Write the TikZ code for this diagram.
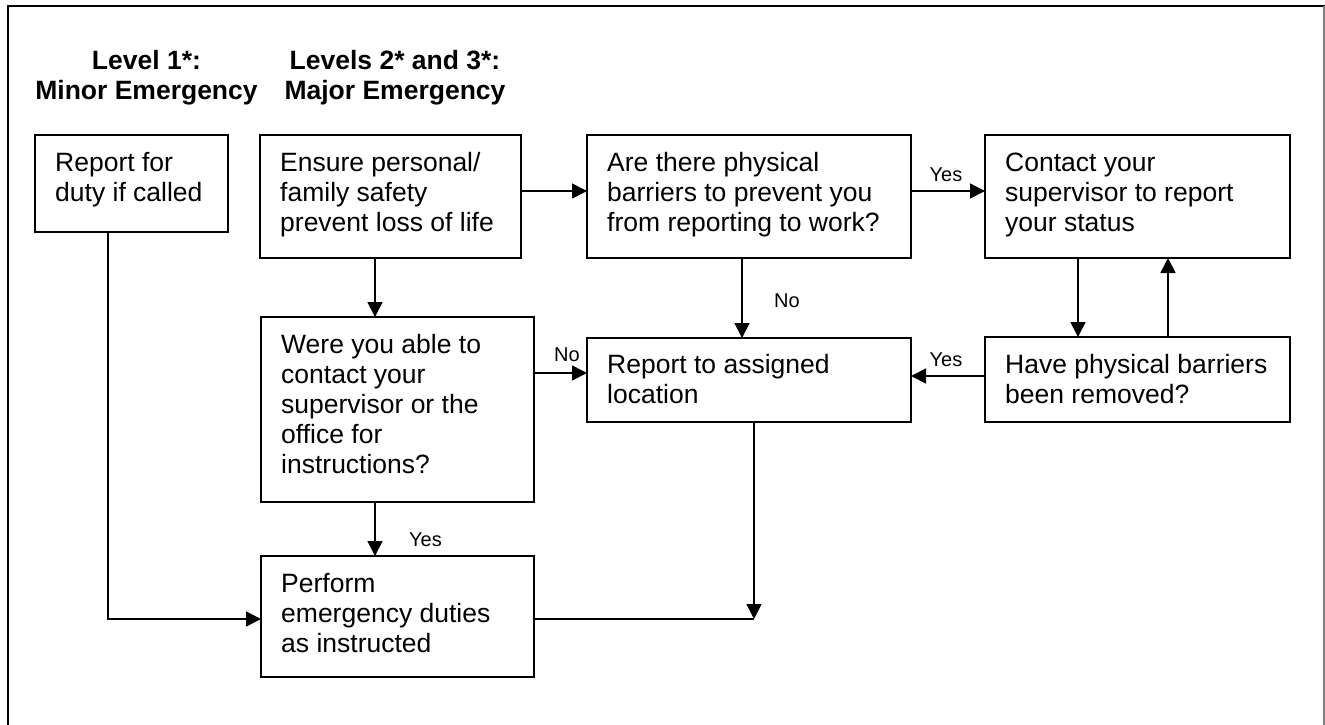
\documentclass[tikz,border=0pt]{standalone}
\usepackage{fontspec}
\setmainfont{Liberation Sans}
\usetikzlibrary{arrows.meta,calc}
\begin{document}
\begin{tikzpicture}[x=1pt,y=-1pt,
  box/.style={draw,line width=2pt,rectangle,anchor=north west,inner sep=0pt,outer sep=0pt},
  txt/.style={anchor=north west,inner sep=0pt,align=left,font=\fontsize{26.5}{30}\selectfont},
  head/.style={anchor=north,inner sep=0pt,align=center,font=\bfseries\fontsize{26.5}{30}\selectfont},
  lbl/.style={inner sep=0pt,font=\fontsize{20}{24}\selectfont},
  conn/.style={line width=1.7pt},
  arr/.style={conn,-{Triangle[length=15pt,width=15pt]}}]

\useasboundingbox (0,0) rectangle (1325,725);

% page frame (open at the bottom)
\draw[line width=2pt] (7.5,725) -- (7.5,6) -- (1325,6);
\draw[gray,line width=1.2pt] (1324,6) -- (1324,725);

% column headings
\node[head] (h1) at (146.5,48) {\strut Level 1*:\\Minor Emergency};
\node[head] (h2) at (395,48) {\strut Levels 2* and 3*:\\Major Emergency};

% boxes
\node[box,minimum width=193pt,minimum height=97pt]  (b1) at (35,135)  {};
\node[box,minimum width=261pt,minimum height=123pt] (b2) at (260,135) {};
\node[box,minimum width=324pt,minimum height=123pt] (b3) at (587,135) {};
\node[box,minimum width=305pt,minimum height=123pt] (b4) at (985,135) {};
\node[box,minimum width=324pt,minimum height=84pt]  (b5) at (587,338) {};
\node[box,minimum width=305pt,minimum height=85pt]  (b6) at (985,337) {};
\node[box,minimum width=273pt,minimum height=185pt] (b7) at (261,317) {};
\node[box,minimum width=273pt,minimum height=121pt] (b8) at (261,556) {};

% box texts
\node[txt] (t1) at ($(b1.north west)+(20,15)$) {\strut Report for\\duty if called};
\node[txt] (t2) at ($(b2.north west)+(20,15)$) {\strut Ensure personal/\\family safety\\prevent loss of life};
\node[txt] (t3) at ($(b3.north west)+(20,15)$) {\strut Are there physical\\barriers to prevent you\\from reporting to work?};
\node[txt] (t4) at ($(b4.north west)+(20,15)$) {\strut Contact your\\supervisor to report\\your status};
\node[txt] (t5) at ($(b5.north west)+(20,14)$) {\strut Report to assigned\\location};
\node[txt] (t6) at ($(b6.north west)+(20,15)$) {\strut Have physical barriers\\been removed?};
\node[txt] (t7) at ($(b7.north west)+(20,15)$) {\strut Were you able to\\contact your\\supervisor or the\\office for\\instructions?};
\node[txt] (t8) at ($(b8.north west)+(20,15)$) {\strut Perform\\emergency duties\\as instructed};

% connectors
\draw[arr] ([yshift=-56pt]b2.north east) -- ([yshift=-56pt]b3.north west);
\draw[arr] ([yshift=-56pt]b3.north east) -- ([yshift=-56pt]b4.north west);
\draw[arr] ([xshift=155pt]b3.south west) -- ([xshift=155pt]b5.north west);
\draw[arr] ([xshift=93pt]b4.south west) -- ([xshift=93pt]b6.north west);
\draw[arr] ([xshift=183pt]b6.north west) -- ([xshift=183pt]b4.south west);
\draw[arr] ([yshift=-39pt]b6.north west) -- ([yshift=-38pt]b5.north east);
\draw[arr] ([yshift=-56pt]b7.north east) -- ([yshift=-35pt]b5.north west);
\draw[arr] ([xshift=115pt]b2.south west) -- ([xshift=114pt]b7.north west);
\draw[arr] ([xshift=114pt]b7.south west) -- ([xshift=114pt]b8.north west);
\draw[arr] ([xshift=73pt]b1.south west) |- ([yshift=-63pt]b8.north west);
\coordinate (m) at (754,619);
\draw[conn] ([yshift=-63pt]b8.north east) -- (m);
\draw[arr] ([xshift=167pt]b5.south west) -- (m);

% connector labels
\node[lbl] (y1) at (946,175) {Yes};
\node[lbl] (n1) at (787,301) {No};
\node[lbl] (y2) at (946,360) {Yes};
\node[lbl] (n2) at (567,355) {No};
\node[lbl] (y3) at (425.5,540) {Yes};

\end{tikzpicture}
\end{document}
